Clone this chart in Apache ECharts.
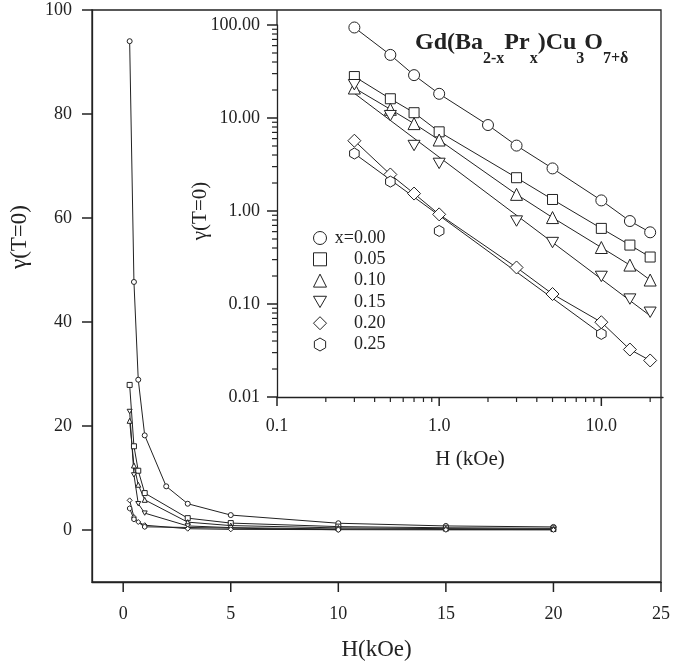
<!DOCTYPE html>
<html>
<head>
<meta charset="utf-8">
<script src="https://cdn.jsdelivr.net/npm/echarts@6/dist/echarts.min.js"></script>
<style>
html,body{margin:0;padding:0;background:#fff}
#chart{width:673px;height:666px}
</style>
</head>
<body>
<div id="chart"></div>
<script>
// Field values H (kOe) measured for each composition
const H_X000 = [0.3, 0.5, 0.7, 1, 2, 3, 5, 10, 15, 20];
const H_X005 = [0.3, 0.5, 0.7, 1, 3, 5, 10, 15, 20];
const H_X010 = [0.3, 0.5, 0.7, 1, 3, 5, 10, 15, 20];
const H_X015 = [0.3, 0.5, 0.7, 1, 3, 5, 10, 15, 20];
const H_X020 = [0.3, 0.5, 0.7, 1, 3, 5, 10, 15, 20];
const H_X025 = [0.3, 0.5, 1, 10];

// gamma(T=0) for each composition
const G_X000 = [94, 47.7, 28.9, 18.2, 8.4, 5.05, 2.87, 1.3, 0.78, 0.59];
const G_X005 = [27.9, 16.1, 11.4, 7.1, 2.28, 1.33, 0.65, 0.43, 0.32];
const G_X010 = [21.0, 12.4, 8.7, 5.8, 1.51, 0.85, 0.405, 0.262, 0.181];
const G_X015 = [22.8, 10.6, 5.06, 3.25, 0.78, 0.458, 0.198, 0.113, 0.0815];
const G_X020 = [5.7, 2.47, 1.54, 0.92, 0.247, 0.128, 0.0637, 0.0324, 0.0247];
const G_X025 = [4.15, 2.07, 0.61, 0.0477];

// straight power-law lines for x=0.15 and x=0.25 (end values)
const FIT_H_X015 = [0.3, 20];
const FIT_G_X015 = [18.4, 0.0747];
const FIT_H_X025 = [0.3, 10];
const FIT_G_X025 = [4.15, 0.0477];

// legend labels
const LABELS = ['x=0.00', '0.05', '0.10', '0.15', '0.20', '0.25'];

// tick values
const MAIN_X_TICKS = [0, 5, 10, 15, 20, 25];
const MAIN_Y_TICKS = [0, 20, 40, 60, 80, 100];
const INSET_X_TICKS = [0.1, 1, 10];
const INSET_X_MINOR = [0.2, 0.3, 0.4, 0.5, 0.6, 0.7, 0.8, 0.9, 2, 3, 4, 5, 6, 7, 8, 9, 20];
const INSET_Y_TICKS = [0.01, 0.1, 1, 10, 100];
const INSET_Y_MINOR = [
  0.02, 0.03, 0.04, 0.05, 0.06, 0.07, 0.08, 0.09,
  0.2, 0.3, 0.4, 0.5, 0.6, 0.7, 0.8, 0.9,
  2, 3, 4, 5, 6, 7, 8, 9,
  20, 30, 40, 50, 60, 70, 80, 90
];

const FONT = 'Liberation Serif';
const INK = '#222';
const DOWN_TRI = 'path://M0,0L12,0L6,10.4Z';
const HEXAGON = 'path://M5.2,0L10.4,3L10.4,9L5.2,12L0,9L0,3Z';

const SYMBOLS = ['circle', 'rect', 'triangle', DOWN_TRI, 'diamond', HEXAGON];
const INSET_SIZES = [11, 10, 12, 12, 13, 11];
const H_ALL = [H_X000, H_X005, H_X010, H_X015, H_X020, H_X025];
const G_ALL = [G_X000, G_X005, G_X010, G_X015, G_X020, G_X025];

const pairs = (hs, gs) => hs.map((h, i) => [h, gs[i]]);

const series = [];
// main panel: linear axes, polylines through the points
H_ALL.forEach((hs, k) => {
  series.push({
    name: 'main ' + LABELS[k],
    type: 'line',
    xAxisIndex: 0, yAxisIndex: 0,
    data: pairs(hs, G_ALL[k]),
    symbol: SYMBOLS[k], symbolSize: 5, symbolKeepAspect: true,
    showSymbol: true,
    lineStyle: {color: INK, width: 1},
    itemStyle: {color: '#fff', borderColor: INK, borderWidth: 1},
    z: 3
  });
});
// inset: log-log lines
H_ALL.forEach((hs, k) => {
  let lineData = pairs(hs, G_ALL[k]);
  if (k === 3) lineData = pairs(FIT_H_X015, FIT_G_X015);
  if (k === 5) lineData = pairs(FIT_H_X025, FIT_G_X025);
  series.push({
    name: 'line ' + LABELS[k],
    type: 'line',
    xAxisIndex: 1, yAxisIndex: 1,
    data: lineData,
    showSymbol: false,
    lineStyle: {color: INK, width: 1},
    z: 3
  });
});
// inset: hollow markers
H_ALL.forEach((hs, k) => {
  series.push({
    name: LABELS[k],
    type: 'scatter',
    xAxisIndex: 1, yAxisIndex: 1,
    data: pairs(hs, G_ALL[k]),
    symbol: SYMBOLS[k], symbolSize: INSET_SIZES[k], symbolKeepAspect: true,
    itemStyle: {color: '#fff', borderColor: INK, borderWidth: 1, opacity: 1},
    z: 4
  });
});

const labelStyle = {fontFamily: FONT, fontSize: 18, color: INK};
const axisLine = () => ({show: true, onZero: false, lineStyle: {color: INK, width: 1.3}});

const graphics = [
  // left edge of the inset frame above the 100 decade
  {type: 'line', shape: {x1: 277, y1: 10, x2: 277, y2: 25}, style: {stroke: INK, lineWidth: 1.3}, z: 10},
  // main y-axis title
  {
    type: 'text', x: 20, y: 237, rotation: Math.PI / 2,
    style: {text: 'γ(T=0)', fontFamily: FONT, fontSize: 23, fill: INK, align: 'center', verticalAlign: 'middle'}
  },
  // compound formula
  {
    type: 'text', left: 415, top: 31,
    style: {
      text: '{m|Gd(Ba}{s|2-x}{m|Pr}{s|x}{m|)Cu}{s|3}{m|O}{s|7+δ}',
      rich: {
        m: {fontFamily: FONT, fontWeight: 'bold', fontSize: 24, lineHeight: 24, verticalAlign: 'top', fill: INK},
        s: {fontFamily: FONT, fontWeight: 'bold', fontSize: 16, lineHeight: 55, fill: INK}
      }
    }
  }
];

const option = {
  animation: false,
  backgroundColor: '#fff',
  grid: [
    {left: 92, top: 10, right: 10, bottom: 83, show: true, borderColor: INK, borderWidth: 1.3, backgroundColor: 'transparent'},
    {left: 277, top: 25, right: 10, bottom: 269, show: false}
  ],
  xAxis: [
    {
      type: 'value', gridIndex: 0, position: 'bottom', min: -1.45, max: 25,
      axisLine: axisLine(),
      axisTick: {show: false},
      axisLabel: Object.assign({margin: 23, customValues: MAIN_X_TICKS}, labelStyle),
      splitLine: {show: false},
      name: 'H(kOe)', nameLocation: 'middle', nameGap: 56, nameMoveOverlap: false,
      nameTextStyle: {fontFamily: FONT, fontSize: 23, color: INK}
    },
    {
      type: 'log', gridIndex: 1, position: 'bottom', min: 0.1, max: 24, logBase: 10,
      axisLine: axisLine(),
      axisTick: {show: false},
      axisLabel: Object.assign({margin: 20, customValues: INSET_X_TICKS, formatter: v => Number(v).toFixed(1)}, labelStyle),
      splitLine: {show: false},
      name: 'H (kOe)', nameLocation: 'middle', nameGap: 52, nameMoveOverlap: false,
      nameTextStyle: {fontFamily: FONT, fontSize: 21, color: INK}
    }
  ],
  yAxis: [
    {
      type: 'value', gridIndex: 0, position: 'left', min: -10, max: 100,
      axisLine: axisLine(),
      axisTick: {show: false},
      axisLabel: Object.assign({margin: 20, customValues: MAIN_Y_TICKS}, labelStyle),
      splitLine: {show: false}
    },
    {
      type: 'log', gridIndex: 1, position: 'left', min: 0.01, max: 100, logBase: 10,
      axisLine: axisLine(),
      axisTick: {show: false},
      axisLabel: Object.assign({margin: 17, customValues: INSET_Y_TICKS, formatter: v => Number(v).toFixed(2)}, labelStyle),
      splitLine: {show: false},
      name: 'γ(T=0)', nameLocation: 'middle', nameGap: 66, nameMoveOverlap: false,
      nameTextStyle: {fontFamily: FONT, fontSize: 21, color: INK}
    }
  ],
  legend: {
    orient: 'vertical',
    left: 308, top: 224,
    itemWidth: 13, itemHeight: 13, itemGap: 3.3,
    selectedMode: false,
    data: LABELS.map((n, k) => ({
      name: n, icon: SYMBOLS[k],
      itemStyle: {color: '#fff', borderColor: INK, borderWidth: 1}
    })),
    formatter: n => '{t|' + n + '}',
    textStyle: {
      rich: {t: {fontFamily: FONT, fontSize: 18, color: INK, width: 54, align: 'right'}}
    }
  },
  graphic: graphics,
  series: series
};

const chart = echarts.init(document.getElementById('chart'), null, {renderer: 'canvas'});
chart.setOption(option);

// Tick marks placed through the axes' own scales (outward from each axis line)
function tickMarks() {
  const marks = [];
  const seg = (x1, y1, x2, y2, w) => marks.push({
    type: 'line', silent: true, z: 10,
    shape: {x1: x1, y1: y1, x2: x2, y2: y2},
    style: {stroke: INK, lineWidth: w}
  });
  const mainBottom = chart.convertToPixel({yAxisIndex: 0}, -10);
  const mainLeft = chart.convertToPixel({xAxisIndex: 0}, -1.45);
  const insetBottom = chart.convertToPixel({yAxisIndex: 1}, 0.01);
  const insetLeft = chart.convertToPixel({xAxisIndex: 1}, 0.1);

  MAIN_X_TICKS.forEach(v => { const x = chart.convertToPixel({xAxisIndex: 0}, v); seg(x, mainBottom, x, mainBottom + 10, 1.5); });
  MAIN_Y_TICKS.forEach(v => { const y = chart.convertToPixel({yAxisIndex: 0}, v); seg(mainLeft - 10, y, mainLeft, y, 1.5); });
  INSET_X_TICKS.forEach(v => { const x = chart.convertToPixel({xAxisIndex: 1}, v); seg(x, insetBottom, x, insetBottom + 9, 1.5); });
  INSET_X_MINOR.forEach(v => { const x = chart.convertToPixel({xAxisIndex: 1}, v); seg(x, insetBottom, x, insetBottom + 5, 1.2); });
  INSET_Y_TICKS.forEach(v => { const y = chart.convertToPixel({yAxisIndex: 1}, v); seg(insetLeft - 10, y, insetLeft, y, 1.5); });
  INSET_Y_MINOR.forEach(v => { const y = chart.convertToPixel({yAxisIndex: 1}, v); seg(insetLeft - 5, y, insetLeft, y, 1.2); });
  return marks;
}

chart.setOption({graphic: graphics.concat(tickMarks())});
</script>
</body>
</html>
